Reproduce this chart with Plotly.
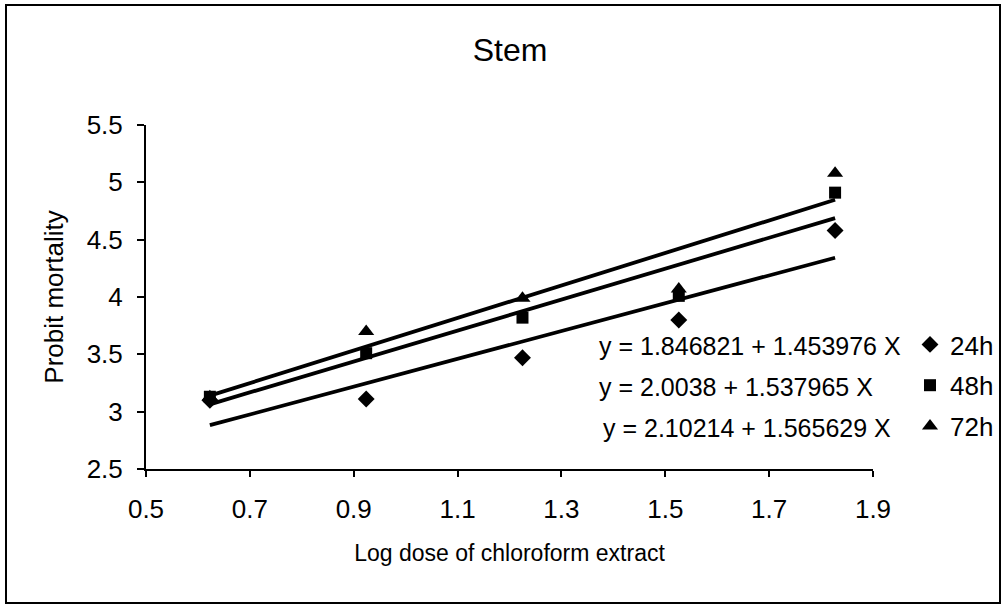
import numpy as np
import plotly.graph_objects as go

# ---- data ----
log_dose = [0.623, 0.924, 1.225, 1.526, 1.827]
probit_24h = [3.10, 3.11, 3.47, 3.80, 4.58]
probit_48h = [3.13, 3.51, 3.82, 4.01, 4.91]
probit_72h = [3.13, 3.70, 3.99, 4.07, 5.08]
series_names = ["24h", "48h", "72h"]
equations = [
    "y = 1.846821 + 1.453976 X",
    "y = 2.0038 + 1.537965 X",
    "y = 2.10214 + 1.565629 X",
]
x_ticks = [0.5, 0.7, 0.9, 1.1, 1.3, 1.5, 1.7, 1.9]
y_ticks = [2.5, 3, 3.5, 4, 4.5, 5, 5.5]

# ---- layout geometry (pixels) ----
W, H = 1004, 609
L, R, T, B = 146, 873, 125, 469
pw, ph = R - L, B - T


def px(x):
    return (x - L) / pw


def py(y):
    return (B - y) / ph


FONT = "Liberation Sans, Arial, sans-serif"
symbols = ["diamond", "square", "triangle-up"]
sizes = [13, 12, 14]
series = [probit_24h, probit_48h, probit_72h]

fig = go.Figure()

# trend lines (least squares fit of each series)
for vals in series:
    slope, icpt = np.polyfit(log_dose, vals, 1)
    xs = [log_dose[0], log_dose[-1]]
    fig.add_trace(go.Scatter(
        x=xs, y=[icpt + slope * v for v in xs], mode="lines",
        line=dict(color="black", width=3.8), showlegend=False, hoverinfo="skip"))

for i, vals in enumerate(series):
    fig.add_trace(go.Scatter(
        x=log_dose, y=vals, mode="markers", name=series_names[i],
        legendgroup=series_names[i],
        marker=dict(symbol=symbols[i], size=sizes[i], color="black")))

# equation labels
eq_x = [597, 597, 601]
eq_y = [346, 387, 428]
for txt, xx, yy in zip(equations, eq_x, eq_y):
    fig.add_annotation(text=txt, xref="paper", yref="paper", x=px(xx), y=py(yy),
                       xanchor="left", yanchor="middle", showarrow=False,
                       font=dict(family=FONT, size=25, color="black"))

# outer frame
fig.add_shape(type="rect", xref="paper", yref="paper",
              x0=px(6), x1=px(1000), y0=py(603), y1=py(5),
              line=dict(color="black", width=2), fillcolor="rgba(0,0,0,0)", layer="below")

fig.update_layout(
    width=W, height=H,
    margin=dict(l=L, r=W - R, t=T, b=H - B, pad=0, autoexpand=False),
    paper_bgcolor="white", plot_bgcolor="white",
    font=dict(family=FONT, size=26, color="black"),
    title=dict(text="Stem", xref="container", x=510 / W, xanchor="center",
               yref="container", y=1 - 50 / H, yanchor="middle",
               font=dict(family=FONT, size=32, color="black")),
    legend=dict(x=px(910), y=py(321), xanchor="left", yanchor="top",
                font=dict(family=FONT, size=26, color="black"),
                tracegroupgap=4, itemwidth=30, bgcolor="rgba(0,0,0,0)"),
    showlegend=True,
)
fig.update_xaxes(range=[0.5, 1.9], tickvals=x_ticks, tickformat=".1f",
                 showline=True, linecolor="black", linewidth=2, ticks="outside",
                 tickcolor="black", ticklen=6, tickwidth=1.5, showgrid=False, zeroline=False,
                 ticklabelstandoff=10, automargin=False,
                 title=dict(text="Log dose of chloroform extract", standoff=22,
                            font=dict(family=FONT, size=23)))
fig.update_yaxes(range=[2.5, 5.5], tickvals=y_ticks,
                 showline=True, linecolor="black", linewidth=2, ticks="outside",
                 tickcolor="black", ticklen=7, tickwidth=1.5, showgrid=False, zeroline=False,
                 ticklabelstandoff=9, automargin=False,
                 title=dict(text="Probit mortality", standoff=16,
                            font=dict(family=FONT, size=26)))

fig.write_html("out.html", post_script="document.body.style.margin='0';",
               config={"displayModeBar": False})
